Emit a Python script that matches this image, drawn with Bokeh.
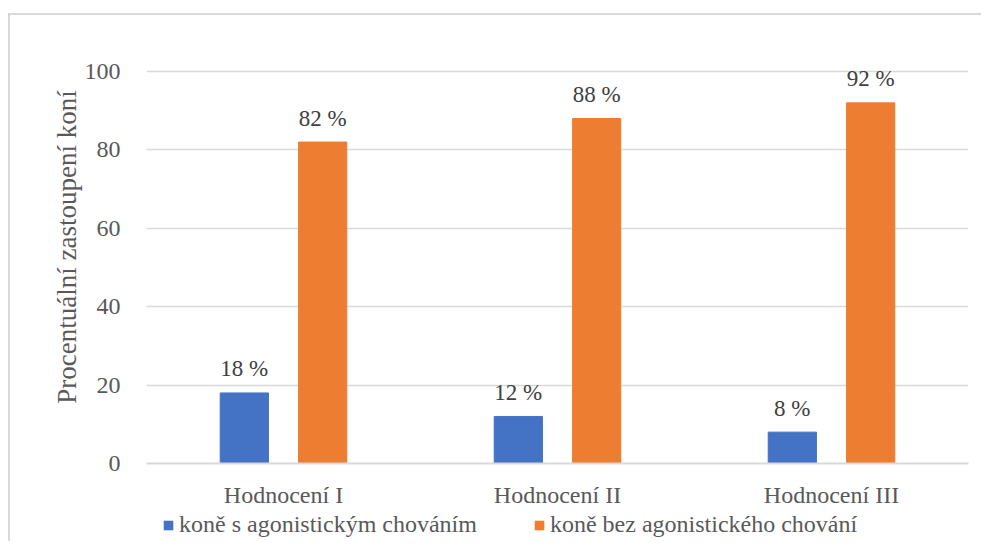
from bokeh.plotting import figure
from bokeh.models import ColumnDataSource, Range1d, FixedTicker, Legend, LegendItem, Spacer
from bokeh.layouts import column, row
from bokeh.transform import dodge
from bokeh.core.properties import value
from bokeh.embed import file_html
from bokeh.resources import INLINE

categories = ["Hodnocení I", "Hodnocení II", "Hodnocení III"]
series_names = ["koně s agonistickým chováním", "koně bez agonistického chování"]
with_agon = [18, 12, 8]
without_agon = [82, 88, 92]
label_with = ["18 %", "12 %", "8 %"]
label_without = ["82 %", "88 %", "92 %"]
y_ticks = [0, 20, 40, 60, 80, 100]

FONT = "Liberation Serif"
BLUE = "#4472C4"
ORANGE = "#ED7D31"
GRID = "#d9d9d9"
TXT = "#595959"

src = ColumnDataSource(dict(cat=categories, a=with_agon, b=without_agon,
                            la=label_with, lb=label_without))

p = figure(x_range=categories, y_range=Range1d(0, 110.46),
           width=973, height=496, output_backend="svg", toolbar_location=None,
           min_border_left=136, min_border_right=15, min_border_top=15,
           min_border_bottom=48,
           styles={"border-top": "2px solid #d9d9d9", "border-left": "2px solid #d9d9d9"})
p.outline_line_color = None
p.x_range.range_padding = 0

p.vbar(x=dodge("cat", -0.143, range=p.x_range), top="a", width=0.176,
       source=src, fill_color=BLUE, line_color=BLUE)
p.vbar(x=dodge("cat", 0.143, range=p.x_range), top="b", width=0.176,
       source=src, fill_color=ORANGE, line_color=ORANGE)

p.text(x=dodge("cat", -0.143, range=p.x_range), y="a", text="la", source=src,
       text_align="center", text_baseline="alphabetic", y_offset=-24,
       text_font=value(FONT), text_font_size="23px", text_color="#404040")
p.text(x=dodge("cat", 0.143, range=p.x_range), y="b", text="lb", source=src,
       text_align="center", text_baseline="alphabetic", y_offset=-24,
       text_font=value(FONT), text_font_size="23px", text_color="#404040")

p.yaxis.ticker = FixedTicker(ticks=y_ticks)
p.yaxis.axis_label = "Procentuální zastoupení koní"
p.yaxis.axis_label_text_font = FONT
p.yaxis.axis_label_text_font_style = "normal"
p.yaxis.axis_label_text_font_size = "27px"
p.yaxis.axis_label_text_color = TXT
p.yaxis.axis_label_standoff = 0
p.yaxis.major_label_text_font = FONT
p.yaxis.major_label_text_font_size = "24px"
p.yaxis.major_label_text_color = TXT
p.yaxis.major_label_standoff = 20
p.yaxis.axis_line_color = None
p.yaxis.major_tick_line_color = None
p.yaxis.minor_tick_line_color = None

p.xaxis.major_label_text_font = FONT
p.xaxis.major_label_text_font_size = "24px"
p.xaxis.major_label_text_color = TXT
p.xaxis.major_label_standoff = 12
p.xaxis.axis_line_color = GRID
p.xaxis.axis_line_width = 2
p.xaxis.major_tick_line_color = None
p.xaxis.minor_tick_line_color = None

p.xgrid.grid_line_color = None
p.ygrid.grid_line_color = GRID
p.ygrid.grid_line_width = 1.5

# legend strip below the chart (its frame is aligned with the chart's frame)
lf = figure(width=973, height=32, output_backend="svg", toolbar_location=None,
            x_range=Range1d(0, 1), y_range=Range1d(0, 1),
            x_axis_location=None, y_axis_location=None,
            min_border_left=0, min_border_right=0, min_border_top=0, min_border_bottom=0,
            styles={"border-left": "2px solid #d9d9d9"})
lf.outline_line_color = None
lf.grid.visible = False
la_r = lf.vbar(x=[-50], top=[0], width=0.1, fill_color=BLUE, line_color=None)
lb_r = lf.vbar(x=[-50], top=[0], width=0.1, fill_color=ORANGE, line_color=None)

legend = Legend(items=[LegendItem(label=series_names[0], renderers=[la_r]),
                       LegendItem(label=series_names[1], renderers=[lb_r])],
                orientation="horizontal", location=(16, 3),
                glyph_width=12, glyph_height=12, label_height=24,
                label_standoff=5, spacing=56,
                padding=0, margin=0, border_line_color=None,
                background_fill_alpha=0,
                label_text_font=FONT, label_text_font_size="24px",
                label_text_color=TXT)
lf.add_layout(legend, "center")

layout = column(Spacer(width=10, height=13),
                row(Spacer(width=8, height=10), column(p, lf, spacing=0)))

open("out.html", "w").write(file_html(layout, INLINE))
